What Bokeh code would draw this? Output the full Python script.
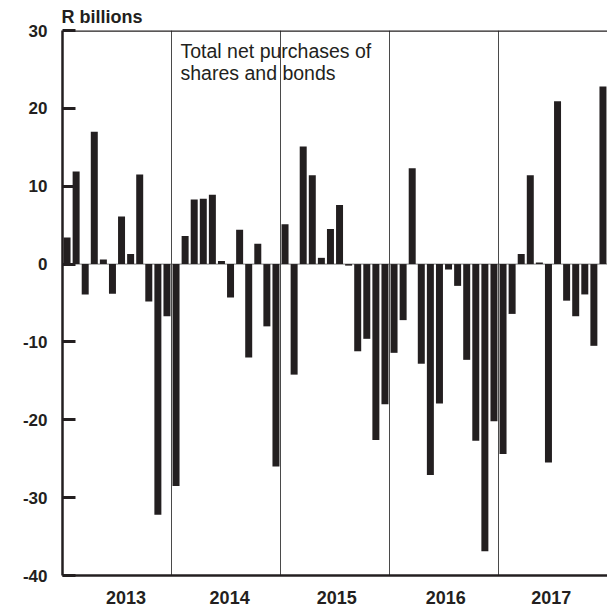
from bokeh.plotting import figure
from bokeh.models import Span, Label, FixedTicker, ColumnDataSource, Range1d, Title
from bokeh.embed import file_html
from bokeh.resources import INLINE

# ---- data (R billions, monthly) ----
years = ["2013", "2014", "2015", "2016", "2017"]
v2013 = [3.4, 11.9, -3.9, 17.0, 0.6, -3.8, 6.1, 1.3, 11.5, -4.8, -32.2, -6.7]
v2014 = [-28.5, 3.6, 8.3, 8.4, 8.9, 0.4, -4.3, 4.4, -12.0, 2.6, -8.0, -26.0]
v2015 = [5.1, -14.2, 15.1, 11.4, 0.8, 4.5, 7.6, -0.2, -11.2, -9.6, -22.6, -18.0]
v2016 = [-11.4, -7.2, 12.3, -12.8, -27.1, -17.9, -0.7, -2.8, -12.3, -22.7, -36.9, -20.2]
v2017 = [-24.4, -6.4, 1.3, 11.4, 0.2, -25.5, 20.9, -4.7, -6.7, -3.9, -10.5, 22.8]
y_ticks = [-40, -30, -20, -10, 0, 10, 20, 30]
y_tick_labels = ["-40", "-30", "-20", "-10", "0", "10", "20", "30"]
y_unit = "R billions"
note_lines = ["Total net purchases of", "shares and bonds"]

# layout: where the year labels sit (in month units)
year_label_pos = [7.0, 18.4, 30.2, 42.2, 53.8]

values = v2013 + v2014 + v2015 + v2016 + v2017
xs = [i + 0.5 for i in range(len(values))]
src = ColumnDataSource(dict(x=xs, v=values))

INK = "#231f20"
FONT = "Liberation Sans"

title = Title(text=y_unit, align="left", offset=-1, standoff=8,
              text_font=FONT, text_font_size="18px", text_font_style="bold",
              text_color=INK)

p = figure(width=607, height=609,
           x_range=Range1d(0, 60), y_range=Range1d(-40, 30),
           output_backend="svg", toolbar_location=None,
           min_border_left=62, min_border_right=0,
           min_border_top=30, min_border_bottom=34, title=title)
p.outline_line_color = None
p.grid.visible = False
p.background_fill_color = "white"
p.border_fill_color = "white"

# zero line under bars
p.add_layout(Span(location=0, dimension="width", line_color="#9a9a9a",
                  line_width=1.2, level="underlay"))
# year separators
for k in range(1, len(years)):
    p.add_layout(Span(location=12 * k, dimension="height", line_color="#4a4a4a",
                      line_width=1, level="underlay"))

p.vbar(x="x", top="v", bottom=0, width=0.77, source=src,
       fill_color=INK, line_color=None)

# top border
p.add_layout(Span(location=30, dimension="width", line_color=INK, line_width=2.5))

# x axis
p.xaxis.ticker = FixedTicker(ticks=year_label_pos)
p.xaxis.major_label_overrides = {c: y for c, y in zip(year_label_pos, years)}
p.xaxis.major_tick_line_color = None
p.xaxis.minor_tick_line_color = None
p.xaxis.axis_line_width = 2.5
p.xaxis.axis_line_color = INK
p.xaxis.major_label_text_font = FONT
p.xaxis.major_label_text_font_size = "18px"
p.xaxis.major_label_text_font_style = "bold"
p.xaxis.major_label_text_color = INK
p.xaxis.major_label_standoff = 9

# y axis
p.yaxis.ticker = FixedTicker(ticks=y_ticks)
p.yaxis.major_label_overrides = {t: l for t, l in zip(y_ticks, y_tick_labels)}
p.yaxis.major_tick_in = 13
p.yaxis.major_tick_out = 0
p.yaxis.major_tick_line_width = 3
p.yaxis.major_tick_line_color = INK
p.yaxis.minor_tick_line_color = None
p.yaxis.axis_line_width = 2.5
p.yaxis.axis_line_color = INK
p.yaxis.major_label_text_font = FONT
p.yaxis.major_label_text_font_size = "17px"
p.yaxis.major_label_text_font_style = "bold"
p.yaxis.major_label_text_color = INK
p.yaxis.major_label_standoff = 15

# note
for i, line in enumerate(note_lines):
    p.add_layout(Label(x=12, y=30, x_offset=9, y_offset=-20.5 - 22 * i, text=line,
                       text_font=FONT, text_font_size="19.5px",
                       text_color=INK, text_baseline="alphabetic"))

open("out.html", "w").write(file_html(p, INLINE))
